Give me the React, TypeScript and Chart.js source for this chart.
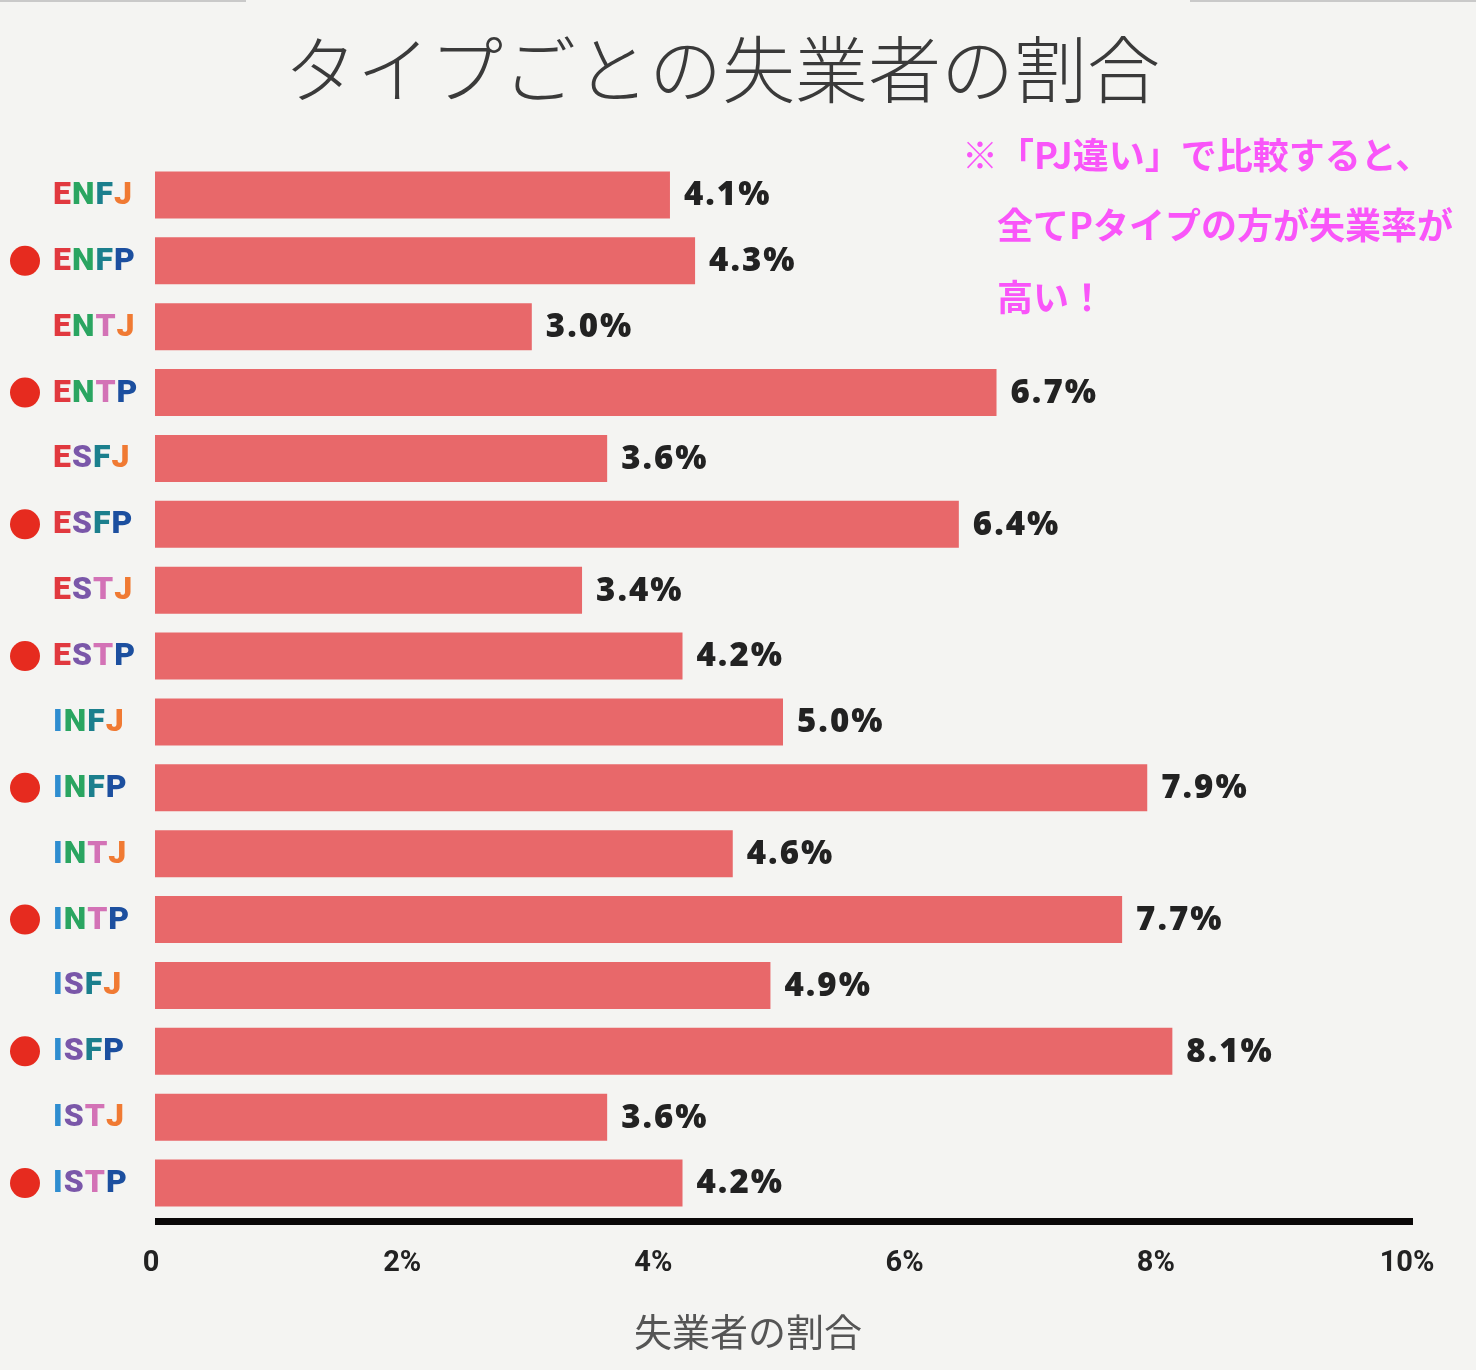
import React, { useEffect, useRef } from "react";
import { Chart, registerables } from "chart.js";

Chart.register(...registerables);

const types = ["ENFJ", "ENFP", "ENTJ", "ENTP", "ESFJ", "ESFP", "ESTJ", "ESTP", "INFJ", "INFP", "INTJ", "INTP", "ISFJ", "ISFP", "ISTJ", "ISTP"];
const rates = [4.1, 4.3, 3.0, 6.7, 3.6, 6.4, 3.4, 4.2, 5.0, 7.9, 4.6, 7.7, 4.9, 8.1, 3.6, 4.2];
const highlighted = [false, true, false, true, false, true, false, true, false, true, false, true, false, true, false, true];
const xTickValues = [0, 2, 4, 6, 8, 10];
const titleText = "タイプごとの失業者の割合";
const axisTitleText = "失業者の割合";
const noteLines = ["※「PJ違い」で比較すると、", "全てPタイプの方が失業率が", "高い！"];

const letterColors: Record<string, string> = {
  E: "#e1393f",
  I: "#2e8dd0",
  N: "#2aa561",
  S: "#7a57a9",
  F: "#1b7f8d",
  T: "#d372b6",
  J: "#f07a33",
  P: "#1c4f9f",
};

const BG = "#f4f4f2";
const BAR = "#e8686a";

const overlayPlugin = {
  id: "overlay",
  beforeDraw(chart: any) {
    const { ctx, width, height } = chart;
    ctx.save();
    ctx.fillStyle = BG;
    ctx.fillRect(0, 0, width, height);
    ctx.fillStyle = "#c9c9c9";
    ctx.fillRect(0, 0, 246, 2);
    ctx.fillRect(1190, 0, width - 1190, 2);
    ctx.restore();
  },
  afterDraw(chart: any) {
    const { ctx } = chart;
    const xs = chart.scales.x;
    const ys = chart.scales.y;
    const meta = chart.getDatasetMeta(0);
    ctx.save();

    // title
    ctx.fillStyle = "#3a3a3a";
    ctx.font = "300 73px 'Noto Sans CJK JP'";
    ctx.textAlign = "center";
    ctx.textBaseline = "middle";
    ctx.fillText(titleText, 722, 69);

    // axis line
    const x0 = xs.getPixelForValue(xTickValues[0]);
    const x1 = xs.getPixelForValue(xTickValues[xTickValues.length - 1]);
    ctx.fillStyle = "#0a0808";
    ctx.fillRect(x0, chart.chartArea.bottom + 2, x1 - x0 + 2, 7);

    // y labels and dots
    types.forEach((t, i) => {
      const y = ys.getPixelForValue(i);
      ctx.font = "900 32px Roboto";
      ctx.textAlign = "left";
      ctx.textBaseline = "middle";
      let x = 53;
      for (const ch of t) {
        ctx.fillStyle = letterColors[ch] || "#333";
        ctx.fillText(ch, x, y + 1);
        x += ctx.measureText(ch).width + 1;
      }
      if (highlighted[i]) {
        ctx.beginPath();
        ctx.fillStyle = "#e62b1f";
        ctx.arc(25, y, 15, 0, Math.PI * 2);
        ctx.fill();
      }
    });

    // value labels
    ctx.font = "900 33px 'Noto Sans'";
    ctx.fillStyle = "#222";
    ctx.textAlign = "left";
    ctx.textBaseline = "middle";
    try { (ctx as any).letterSpacing = "2px"; } catch (e) {}
    meta.data.forEach((bar: any, i: number) => {
      ctx.fillText(rates[i].toFixed(1) + "%", bar.x + 14, bar.y + 1);
    });
    try { (ctx as any).letterSpacing = "0px"; } catch (e) {}

    // axis title
    ctx.font = "38px 'Noto Sans CJK JP'";
    ctx.fillStyle = "#555";
    ctx.textAlign = "center";
    ctx.fillText(axisTitleText, 748, 1332);

    // note
    ctx.font = "bold 36px 'Noto Sans CJK JP'";
    ctx.fillStyle = "#f955f9";
    ctx.textAlign = "left";
    ctx.fillText(noteLines[0], 962, 155);
    ctx.fillText(noteLines[1], 997, 225);
    ctx.fillText(noteLines[2], 997, 297);

    ctx.restore();
  },
};

export default function App() {
  const ref = useRef<HTMLCanvasElement | null>(null);
  useEffect(() => {
    document.body.style.margin = "0";
    document.body.style.background = BG;
    const canvas = ref.current;
    if (!canvas) return;
    const chart = new Chart(canvas, {
      type: "bar",
      data: {
        labels: types,
        datasets: [
          {
            data: rates,
            backgroundColor: BAR,
            borderWidth: 0,
            categoryPercentage: 1,
            barPercentage: 0.715,
          },
        ],
      },
      options: {
        indexAxis: "y",
        animation: false,
        responsive: false,
        devicePixelRatio: 1,
        layout: { padding: { left: 0, right: 65, top: 162, bottom: 0 } },
        plugins: {
          legend: { display: false },
          tooltip: { enabled: false },
          title: { display: false },
        },
        scales: {
          y: {
            type: "category",
            grid: { display: false, drawTicks: false },
            border: { display: false },
            ticks: { display: false },
            afterFit: (s: any) => {
              s.width = 155;
            },
          },
          x: {
            min: 0,
            max: 10,
            afterBuildTicks: (s: any) => {
              s.ticks = xTickValues.map((v) => ({ value: v }));
            },
            grid: { display: false, drawTicks: false },
            border: { display: false },
            ticks: {
              padding: 30,
              labelOffset: -4,
              color: "#222",
              font: { family: "Roboto", weight: "bold", size: 29 },
              callback: (v: any) => (Number(v) === 0 ? "0" : v + "%"),
            },
            afterFit: (s: any) => {
              s.height = 154;
            },
          },
        },
      },
      plugins: [overlayPlugin],
    } as any);
    return () => chart.destroy();
  }, []);
  return (
    <div style={{ width: 1476, height: 1370, background: BG }}>
      <canvas ref={ref} width={1476} height={1370} style={{ display: "block", width: 1476, height: 1370 }} />
    </div>
  );
}
